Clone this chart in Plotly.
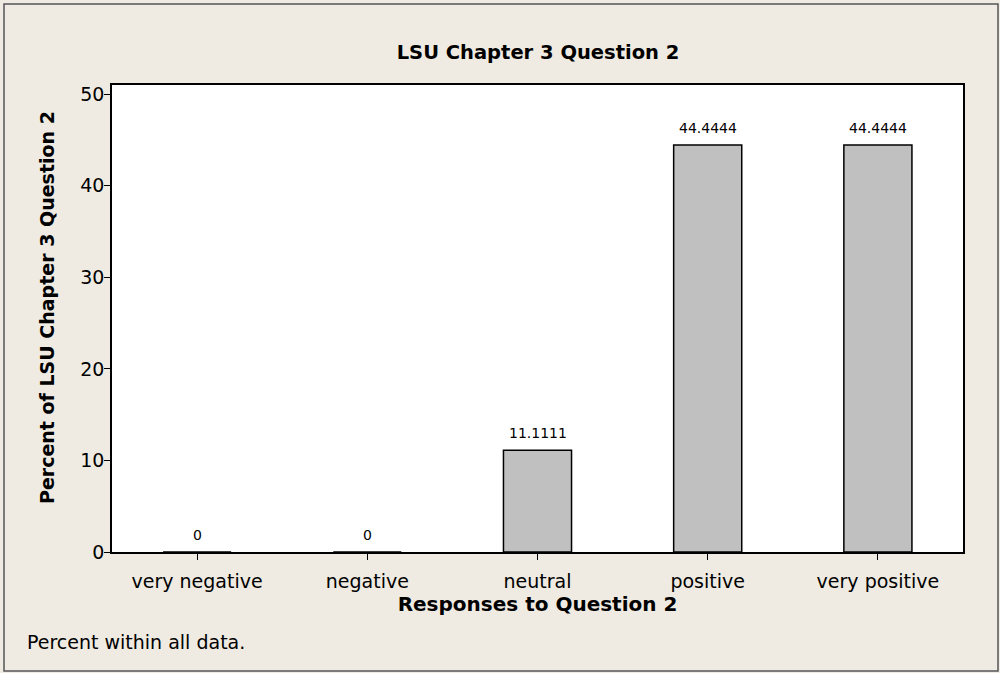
import plotly.graph_objects as go

categories = ["very negative", "negative", "neutral", "positive", "very positive"]
percents = [0, 0, 11.1111, 44.4444, 44.4444]
bar_labels = ["0", "0", "11.1111", "44.4444", "44.4444"]
y_ticks = [0, 10, 20, 30, 40, 50]

FONT = "DejaVu Sans"
BG = "#EFEBE2"

fig = go.Figure()
fig.add_trace(go.Bar(
    x=categories, y=percents, width=0.4,
    marker=dict(color="#C0C0C0", line=dict(color="black", width=1.5)),
    hoverinfo="x+y",
))

for cat, val, lab in zip(categories, percents, bar_labels):
    fig.add_annotation(x=cat, y=val, text=lab, showarrow=False,
                       yanchor="middle", yshift=17,
                       font=dict(family=FONT, size=14, color="black"))

W, H = 1000, 673
L, R, T, B = 112, 37, 85, 121
pw, ph = W - L - R, H - T - B

def px_x(x):
    return (x - L) / pw

def px_y(y):
    return (H - B - y) / ph

fig.update_layout(
    width=W, height=H,
    margin=dict(l=L, r=R, t=T, b=B),
    paper_bgcolor=BG, plot_bgcolor="white",
    showlegend=False,
    font=dict(family=FONT, color="black"),
    title=dict(text="<b>LSU Chapter 3 Question 2</b>", x=px_x(538), xref="paper",
               xanchor="center", y=1 - 52 / H, yanchor="middle",
               font=dict(family=FONT, size=19.5, color="black")),
    xaxis=dict(
        title=dict(text="<b>Responses to Question 2</b>", font=dict(family=FONT, size=20), standoff=4),
        showline=True, linecolor="black", linewidth=1.5, mirror=True,
        ticks="outside", ticklen=6, tickcolor="black", ticklabelstandoff=5,
        tickfont=dict(family=FONT, size=19), showgrid=False,
    ),
    yaxis=dict(
        range=[0, 51], tickvals=y_ticks,
        showline=True, linecolor="black", linewidth=1.5, mirror=True,
        ticks="outside", ticklen=6, tickcolor="black", ticklabelstandoff=-4,
        tickfont=dict(family=FONT, size=19), showgrid=False, zeroline=False,
    ),
    bargap=0.6,
)

fig.add_annotation(text="<b>Percent of LSU Chapter 3 Question 2</b>", xref="paper", yref="paper",
                   x=px_x(47), y=px_y(308), xanchor="center", yanchor="middle", textangle=-90,
                   showarrow=False, font=dict(family=FONT, size=19, color="black"))

fig.add_annotation(text="Percent within all data.", xref="paper", yref="paper",
                   x=px_x(25), y=px_y(642), xanchor="left", yanchor="middle",
                   showarrow=False, font=dict(family=FONT, size=19, color="black"))

fig.add_shape(type="rect", xref="paper", yref="paper",
              x0=px_x(4), x1=px_x(998), y0=px_y(671), y1=px_y(4),
              line=dict(color="#555555", width=1.5), layer="below")

fig.write_html("out.html", config={"displayModeBar": False},
               post_script="document.body.style.margin='0';document.body.style.overflow='hidden';")
